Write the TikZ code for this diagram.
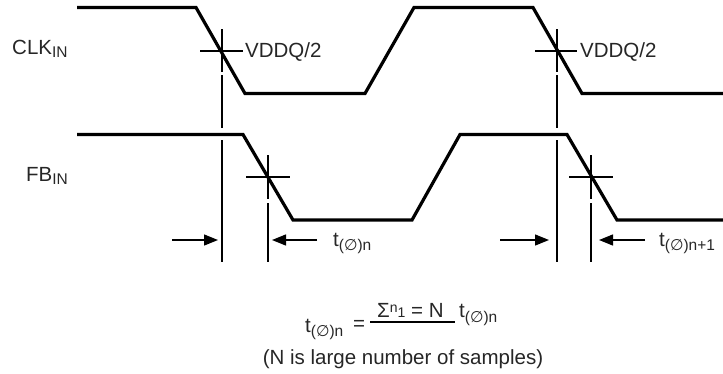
\documentclass[tikz,border=0pt]{standalone}
\usepackage{fontspec}
\setmainfont{Liberation Sans}
\newfontfamily\symf{DejaVu Sans}
\usetikzlibrary{arrows.meta}
\newcommand{\lsub}[2][4pt]{\raisebox{-#1}{\fontsize{15.5}{16}\selectfont #2}}
\newcommand{\phisym}{{\symf ∅}}
\begin{document}
\begin{tikzpicture}[x=1pt,y=-1pt,
  wave/.style={line width=3.2pt, line join=miter},
  refline/.style={line width=1.3pt},
  arr/.style={line width=1.3pt,-{Triangle[length=14pt,width=11pt]}},
  lbl/.style={inner sep=0pt, anchor=base west, font=\fontsize{20.5}{24}\selectfont, text=black!85}]
\useasboundingbox (0,0) rectangle (723,373);
% waveforms
\draw[wave] (77,7.5) -- (196,7.5) -- (245,93.5) -- (365,93.5) -- (414,7.5) -- (533,7.5) -- (582,93.5) -- (723,93.5);
\draw[wave] (77,134.5) -- (243,134.5) -- (293,220) -- (412,220) -- (460,134.5) -- (567,134.5) -- (617,220) -- (723,220);
% crossing ticks CLK
\draw[refline] (200,51) -- (243,51);
\draw[refline] (222,29) -- (222,72);
\draw[refline] (222,75) -- (222,128);
\draw[refline] (222,140) -- (222,262);
\draw[refline] (535,51) -- (577,51);
\draw[refline] (557,29) -- (557,72);
\draw[refline] (557,75) -- (557,128);
\draw[refline] (557,140) -- (557,262);
% crossing ticks FB
\draw[refline] (246,177) -- (290,177);
\draw[refline] (268,155) -- (268,199);
\draw[refline] (268,203) -- (268,262);
\draw[refline] (569,177) -- (613,177);
\draw[refline] (591,155) -- (591,199);
\draw[refline] (591,203) -- (591,262);
% arrows
\coordinate (a1s) at (172,240); \coordinate (a1e) at (218,240);
\coordinate (a2s) at (317,240); \coordinate (a2e) at (272,240);
\coordinate (a3s) at (500,240); \coordinate (a3e) at (549,240);
\coordinate (a4s) at (645,240); \coordinate (a4e) at (599,240);
\draw[arr] (a1s) -- (a1e);
\draw[arr] (a2s) -- (a2e);
\draw[arr] (a3s) -- (a3e);
\draw[arr] (a4s) -- (a4e);
% labels
\node[lbl] (clk) at (12,54) {CLK\lsub[3pt]{IN}};
\node[lbl] (fb) at (26,181) {FB\lsub[3pt]{IN}};
\node[lbl] (v1) at (245,57) {VDDQ/2};
\node[lbl] (v2) at (580,57) {VDDQ/2};
\node[lbl] (t1) at (333,246) {t\lsub{(\phisym)n}};
\node[lbl] (t2) at (659,246) {t\lsub{(\phisym)n+1}};
% formula
\node[lbl] (fl) at (305,332) {t\lsub{(\phisym)n}};
\node[lbl] (feq) at (353,330) {=};
\draw[refline] (370,322) coordinate (fb1) -- (455,322) coordinate (fb2);
\node[lbl] (fnum) at (377,317) {Σ\raisebox{5pt}{\fontsize{14}{14}\selectfont n}{\fontsize{14}{14}\selectfont 1} = N};
\node[lbl] (fr) at (459,317) {t\lsub[5pt]{(\phisym)n}};
\node[lbl, anchor=base] (note) at (403,364) {(N is large number of samples)};
\end{tikzpicture}
\end{document}
